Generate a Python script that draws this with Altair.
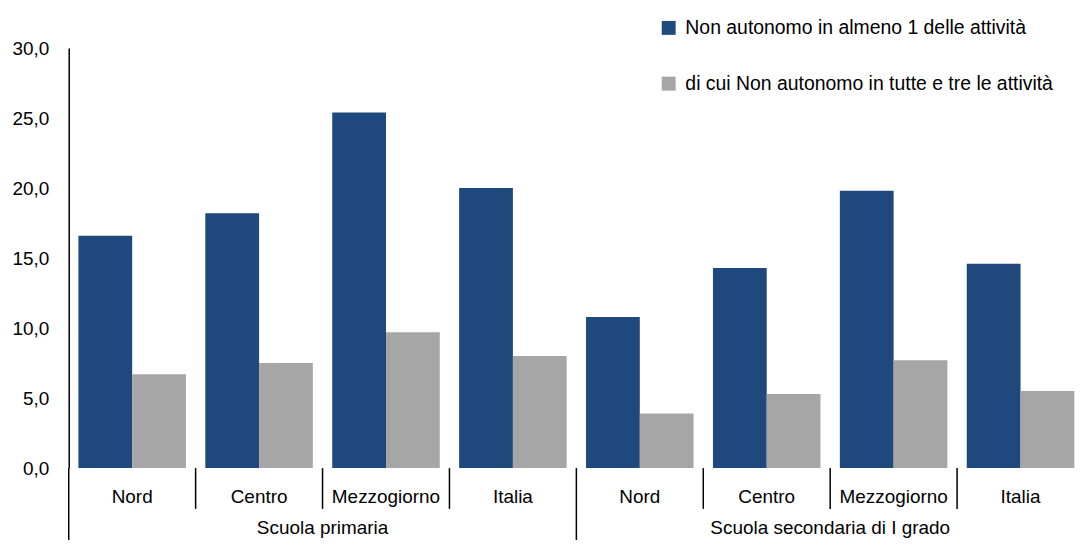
import altair as alt
import pandas as pd

groups = ["Scuola primaria", "Scuola secondaria di I grado"]
regions = ["Nord", "Centro", "Mezzogiorno", "Italia"]
series = ["Non autonomo in almeno 1 delle attività",
          "di cui Non autonomo in tutte e tre le attività"]
almeno_uno = [16.6, 18.2, 25.4, 20.0, 10.8, 14.3, 19.8, 14.6]
tutte_tre = [6.7, 7.5, 9.7, 8.0, 3.9, 5.3, 7.7, 5.5]
colors = ["#1F497D", "#A6A6A6"]
y_ticks = [0, 5, 10, 15, 20, 25, 30]

FONT = "Liberation Sans"
W, H = 1020, 422
PAD_L, PAD_T = 61, 39
TOTAL_H = 532

keys = [f"{g}|{r}" for g in groups for r in regions]
region_labels = [r for g in groups for r in regions]

rows = []
for i, k in enumerate(keys):
    rows.append({"key": k, "series": series[0], "value": almeno_uno[i]})
    rows.append({"key": k, "series": series[1], "value": tutte_tre[i]})
df = pd.DataFrame(rows)

xscale = alt.Scale(domain=keys, paddingInner=0, paddingOuter=0)

bars = alt.Chart(df).mark_bar().encode(
    x=alt.X("key:N", scale=xscale, sort=keys,
            axis=alt.Axis(labels=False, ticks=False, title=None,
                          domainColor="black", domainWidth=2)),
    xOffset=alt.XOffset("series:N", sort=series,
                        scale=alt.Scale(domain=series, paddingInner=0, paddingOuter=0.18)),
    y=alt.Y("value:Q", scale=alt.Scale(domain=[0, 30], nice=False),
            axis=alt.Axis(values=y_ticks, title=None, grid=False, ticks=False,
                          domainColor="black", domainWidth=1.5,
                          labelFontSize=19, labelColor="black", labelPadding=20,
                          labelExpr="replace(format(datum.value, '.1f'), '.', ',')")),
    color=alt.Color("series:N", sort=series,
                    scale=alt.Scale(domain=series, range=colors),
                    legend=alt.Legend(title=None, orient="none", legendX=593, legendY=-30,
                                      symbolType="square", symbolSize=196,
                                      symbolStrokeWidth=0, labelFontSize=19.5,
                                      labelColor="black", labelOffset=7,
                                      rowPadding=35, padding=0, labelLimit=500)),
)

reg_df = pd.DataFrame({"key": keys, "label": region_labels})
reg_text = alt.Chart(reg_df).mark_text(fontSize=19, baseline="middle", color="black").encode(
    x=alt.X("key:N", scale=xscale, sort=keys, axis=None),
    y=alt.value(H + 29),
    text="label:N",
)

grp_df = pd.DataFrame({"key": [keys[2], keys[6]], "label": groups})
grp_text = alt.Chart(grp_df).mark_text(fontSize=19, baseline="middle", color="black").encode(
    x=alt.X("key:N", scale=xscale, sort=keys, axis=None, bandPosition=0),
    y=alt.value(H + 60),
    text="label:N",
)

sep_df = pd.DataFrame({"key": keys, "long": [i % 4 == 0 for i in range(len(keys))]})
short_sep = alt.Chart(sep_df).transform_filter("!datum.long").mark_rule(
    color="black", strokeWidth=1.5).encode(
    x=alt.X("key:N", scale=xscale, sort=keys, axis=None, bandPosition=0),
    y=alt.value(H), y2=alt.value(H + 41),
)
long_sep = alt.Chart(sep_df).transform_filter("datum.long").mark_rule(
    color="black", strokeWidth=1.5).encode(
    x=alt.X("key:N", scale=xscale, sort=keys, axis=None, bandPosition=0),
    y=alt.value(H), y2=alt.value(H + 100),
)

chart = alt.layer(bars, short_sep, long_sep, reg_text, grp_text).properties(
    width=W, height=H,
    autosize=alt.AutoSizeParams(type="none"),
    padding={"left": PAD_L, "top": PAD_T, "right": 0, "bottom": TOTAL_H - PAD_T - H},
).configure(font=FONT).configure_view(stroke=None)

chart.save("out.html", embed_options={"renderer": "svg", "actions": False})
